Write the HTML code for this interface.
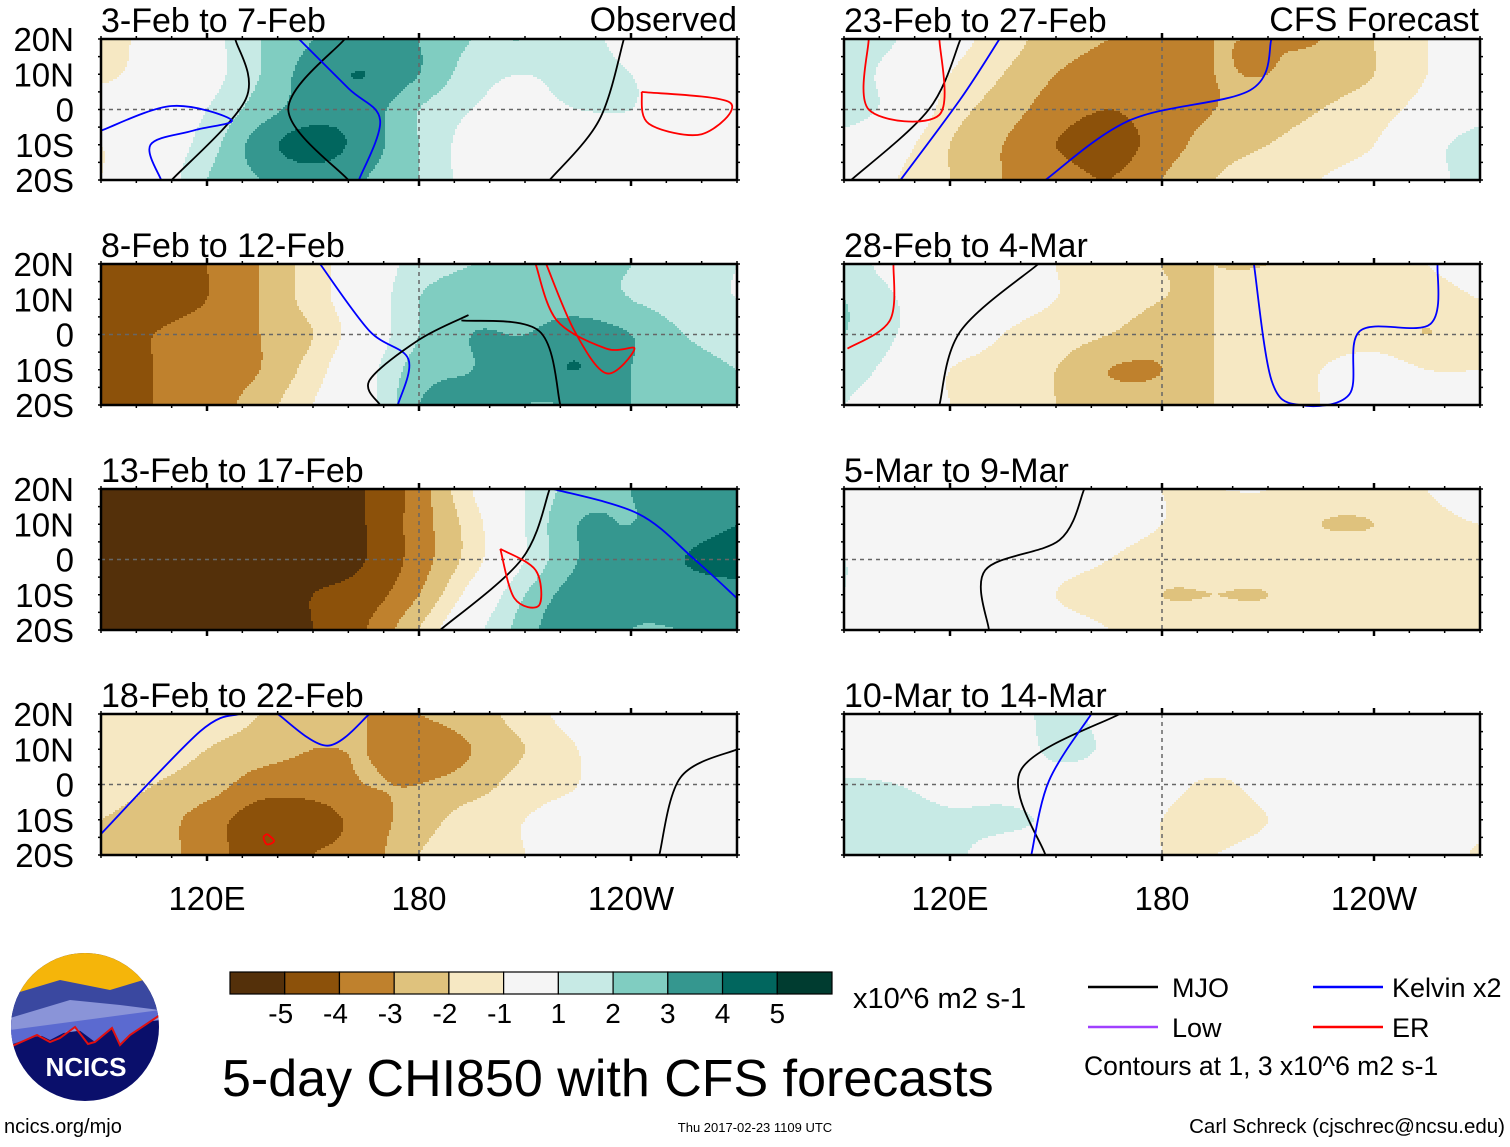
<!DOCTYPE html>
<html><head><meta charset="utf-8">
<style>
html,body{margin:0;padding:0;background:#fff;}
body{width:1510px;height:1142px;position:relative;overflow:hidden;font-family:"Liberation Sans",Arial,sans-serif;}
svg text{font-family:"Liberation Sans",Arial,sans-serif;}
</style></head>
<body>
<svg id="chart" width="1510" height="1142" viewBox="0 0 1510 1142" xmlns="http://www.w3.org/2000/svg">
</svg>
<script>
// ---- data ----
const levels = [-5,-4,-3,-2,-1,1,2,3,4,5];
const colorbarLabels = ["-5","-4","-3","-2","-1","1","2","3","4","5"];
const colors = ["#54300a","#8c510a","#bf812d","#dfc27d","#f6e8c3","#f5f5f5","#c7eae5","#80cdc1","#35978f","#01665e","#003c30"];
const lons = [90,105,120,135,150,165,180,195,210,225,240,255,270];
const lats = [20,10,0,-10,-20];
const titles = ["3-Feb to 7-Feb","8-Feb to 12-Feb","13-Feb to 17-Feb","18-Feb to 22-Feb","23-Feb to 27-Feb","28-Feb to 4-Mar","5-Mar to 9-Mar","10-Mar to 14-Mar"];
const p1 = [[-1.5,-0.5,0.5,2,3,3.5,3,2,2,1.5,0.5,0,0],[-1.2,-0.5,0.5,2,3.5,4,3,1.5,1,1.5,1,0.5,0],[-0.5,0,1,2.5,3.5,3.5,2,1,0.5,1,1,0.5,0.5],[-1,0,1.5,3.5,4.5,3.5,2,0.5,0,0,0.5,0.5,0],[-1,0,2,3,3.5,3,2,0.5,0,0,0,0,0]];
const p2 = [[-4.5,-4.5,-4,-3,-1.5,0,1.5,2,2,2,2,1.5,1],[-4.5,-4.5,-4,-3,-1.5,0,2,2.5,2.5,2.5,2,1.5,1],[-4.5,-4,-3.5,-3,-2,0,2,3,3,3.5,3,2,1.5],[-5,-4,-3.5,-3,-1.5,0.5,2.5,3,3.5,4,3,2.5,2],[-4.5,-4,-3.5,-2.5,-1,0.5,3,3.5,3,3,3,2.5,2]];
const p3 = [[-5.5,-5.5,-5.5,-5.5,-5.5,-5,-3.5,-1,1,2.5,3,3.5,4],[-5.5,-5.5,-5.5,-5.5,-5.5,-5,-3.5,-1.5,1,3,3,3.5,4],[-5.5,-5.5,-5.5,-5.5,-5.5,-5,-3.5,-1.5,1,3,3.5,4,4.5],[-5.5,-5.5,-5.5,-5.5,-5,-4.5,-3,-0.5,2,3.5,3.5,3.5,3.5],[-5.5,-5.5,-5.5,-5.5,-5,-4,-2,0.5,2.5,4,3,3,3]];
const p4 = [[-1.5,-1,-1.5,-2,-2.5,-3,-3,-2.5,-1.5,-0.5,0,0,0],[-1,-1.5,-2,-2.5,-3,-3,-3.5,-3,-2,-1,0,0,0],[-1.5,-2,-2.5,-3.5,-3.5,-3,-3,-2.5,-1.5,-1,0,0,0],[-2,-2.5,-3.5,-4.5,-4.5,-3.5,-2.5,-1.5,-1,-0.5,0,0,0],[-2,-2.5,-3.5,-4.5,-4,-3.5,-2,-1.5,-1,-0.5,0,0,0]];
const p5 = [[1.5,1,-0.5,-1.5,-2.5,-3,-3,-3,-3,-3,-2,-1,0],[1.5,0.5,-1,-2,-3,-3.5,-3.5,-3,-3,-2.5,-2,-1,0],[1.5,0.5,-1.5,-2.5,-3.5,-4,-3.5,-3,-2.5,-2,-1.5,-0.5,0.5],[0.5,-0.5,-2,-3,-4,-4.5,-3.5,-2.5,-2,-1.5,-1,0.5,1.5],[0,-1,-2,-3,-3.5,-4,-3,-2,-1.5,-1,-0.5,0.5,1.5]];
const p6 = [[1.5,0.5,0,-0.5,-1,-1.5,-2,-2,-2,-1.5,-1.5,-1,-0.5],[2,1,0,-0.5,-1,-1.5,-2,-2,-1.5,-1.5,-1.5,-1.5,-1],[2,1,0,-1,-1.5,-2,-2.5,-2,-1.5,-1.5,-1.5,-2,-1.5],[1.5,0.5,-1,-1.5,-2,-3,-3,-2,-1.5,-1,-0.5,-1,-1],[1,0,-1,-1.5,-2,-2.5,-2.5,-2,-1.5,-1,-0.5,-0.5,-1]];
const p7 = [[0.5,0,0,0,0,-0.5,-1,-1,-1,-1.5,-1.5,-1,0],[0.5,0,0,0,0,-0.5,-1,-1.5,-1.5,-2,-2,-1.5,-1],[1,0,0,0,-0.5,-1,-1.5,-1.5,-1.5,-1.5,-1.5,-1.5,-1.5],[1,0,0,0,-1,-1.5,-2,-2,-2,-1.5,-1.5,-1.5,-1.5],[1,0,0,0,-0.5,-1,-1.5,-1.5,-1.5,-1.5,-1.5,-1.5,-1]];
const p8 = [[0,0,0,0,1.5,0.5,0,0,0,0,0,0,0],[0,0,0,0,1.3,0.8,0,0,0,0,0,0,0],[1.2,1,0.5,0.5,0.5,0.3,-0.5,-1.2,-0.5,0,0,0,0],[1.5,1.5,1.2,1.2,0.8,0.3,-1,-1.5,-1,0,0,0,-0.5],[1.2,1.2,1.2,0.5,0.5,0,-1,-1,-0.5,0,0,0,-1.2]];
const fields = [p1,p2,p3,p4,p5,p6,p7,p8];
// contour lines: [panel, kind, [[lon,lat],...]]
const lines = [
 [0,"mjo",[[128,20],[131,3],[110,-20]]],
 [0,"mjo",[[159,20],[143,0],[160,-20]]],
 [0,"mjo",[[238,20],[231,-3],[217,-20]]],
 [0,"kelvin",[[146,20],[160,6],[169,-3],[163,-20]]],
 [0,"kelvin",[[90,-6],[110,1],[127,-3],[116,-6],[104,-10],[107,-20]]],
 [0,"er",[[243,5],[268,2],[260,-7],[245,-4],[243,5]]],
 [1,"kelvin",[[152,20],[166,1],[177,-7],[174,-20]]],
 [1,"mjo",[[194,5.5],[180,-1.5],[166,-13],[169,-20]]],
 [1,"mjo",[[192,4],[214,1],[220,-20]]],
 [1,"er",[[213,20],[219,4],[233,-4],[241,-4],[233,-11],[224,1],[216,20]]],
 [2,"mjo",[[217,20],[209,0],[186,-20]]],
 [2,"kelvin",[[218,20],[242,13],[258,0],[270,-11]]],
 [2,"er",[[203,3],[213,-3],[214,-13],[207,-11],[203,3]]],
 [3,"kelvin",[[90,-14],[118,15],[129,20]]],
 [3,"kelvin",[[140,20],[154,11],[166,20]]],
 [3,"mjo",[[270,10],[254,2],[248,-20]]],
 [3,"er",[[137,-14],[139,-16],[137,-17],[136,-15],[137,-14]]],
 [4,"mjo",[[123,20],[114,0],[92,-20]]],
 [4,"kelvin",[[134,20],[123,3],[106,-20]]],
 [4,"kelvin",[[147,-20],[171,-3],[205,5.5],[211,20]]],
 [4,"er",[[97,20],[97,0],[117,-1.5],[117,20]]],
 [5,"mjo",[[145,20],[123,1],[117,-20]]],
 [5,"kelvin",[[206,20],[211,-13],[219,-20],[233,-17],[236,1],[256,3],[258,20]]],
 [5,"er",[[91,-4],[103,4],[104,20]]],
 [6,"mjo",[[158,20],[151,5.5],[130,-3],[131,-20]]],
 [7,"mjo",[[168,20],[140,4],[147,-20]]],
 [7,"kelvin",[[160,20],[148,1],[143,-20]]]
];
const lineColor = {mjo:"#000", kelvin:"#0000ff", er:"#ff0000"};

// ---- layout ----
const NS="http://www.w3.org/2000/svg";
const svg=document.getElementById('chart');
const colX=[101,844], W=636, H=141, rowY=[39,264,489,714];
function el(tag,attrs,parent){const e=document.createElementNS(NS,tag);for(const k in attrs)e.setAttribute(k,attrs[k]);(parent||svg).appendChild(e);return e;}
function colorFor(v){let i=0;while(i<levels.length&&v>=levels[i])i++;return colors[i];}
function cr(a,b,c,d,t){return 0.5*((2*b)+(-a+c)*t+(2*a-5*b+4*c-d)*t*t+(-a+3*b-3*c+d)*t*t*t);}
function interp(f,lon,lat){
  let fx=(lon-90)/15, fy=(20-lat)/10;
  fx=Math.max(0,Math.min(12,fx)); fy=Math.max(0,Math.min(4,fy));
  const i=Math.min(11,Math.floor(fx)), j=Math.min(3,Math.floor(fy));
  const tx=fx-i, ty=fy-j;
  const ci=k=>Math.max(0,Math.min(12,k)), cj=k=>Math.max(0,Math.min(4,k));
  const row=r=>cr(f[r][ci(i-1)],f[r][i],f[r][i+1],f[r][ci(i+2)],tx);
  return cr(row(cj(j-1)),row(j),row(j+1),row(cj(j+2)),ty);
}
function smoothPath(pts){
  let d='M'+pts[0][0].toFixed(1)+' '+pts[0][1].toFixed(1);
  for(let i=0;i<pts.length-1;i++){
    const p0=pts[Math.max(0,i-1)],p1=pts[i],p2=pts[i+1],p3=pts[Math.min(pts.length-1,i+2)];
    const c1=[p1[0]+(p2[0]-p0[0])/6,p1[1]+(p2[1]-p0[1])/6], c2=[p2[0]-(p3[0]-p1[0])/6,p2[1]-(p3[1]-p1[1])/6];
    d+=' C'+c1.map(v=>v.toFixed(1)).join(' ')+' '+c2.map(v=>v.toFixed(1)).join(' ')+' '+p2[0].toFixed(1)+' '+p2[1].toFixed(1);
  }
  return d;
}
for(let p=0;p<8;p++){
  const x0=colX[p<4?0:1], y0=rowY[p%4];
  const xs=lon=>x0+(lon-90)/180*W, ys=lat=>y0+(20-lat)/40*H;
  const g=el('g',{});
  
  
  const cs=2;
  for(let yy=0;yy<H;yy+=cs){
    let run=null;
    for(let xx=0;xx<=W;xx+=cs){
      let c=null;
      if(xx<W){const lon=90+(xx+cs/2)/W*180, lat=20-(yy+cs/2)/H*40;c=colorFor(interp(fields[p],lon,lat));}
      if(run&&run.c===c){run.w+=cs;continue;}
      if(run){const r=el('rect',{x:x0+run.x,y:y0+yy,width:Math.min(run.w,W-run.x)+0.6,height:Math.min(cs,H-yy)+0.6,fill:run.c},g);
        
        }
      run={x:xx,w:cs,c:c};
    }
  }
  el('line',{x1:xs(180),x2:xs(180),y1:y0,y2:y0+H,stroke:'#666','stroke-width':1.5,'stroke-dasharray':'4,4'},g);
  el('line',{x1:x0,x2:x0+W,y1:ys(0),y2:ys(0),stroke:'#666','stroke-width':1.5,'stroke-dasharray':'4,4'},g);
  lines.filter(l=>l[0]===p).forEach(l=>{
    const pts=l[2].map(pt=>[xs(pt[0]),ys(pt[1])]);
    const pa=el('path',{d:smoothPath(pts),fill:'none',stroke:lineColor[l[1]],'stroke-width':1.8,'stroke-linejoin':'round'},g);
    
    
  });
  el('rect',{x:x0,y:y0,width:W,height:H,fill:'none',stroke:'#000','stroke-width':2.5},g);
  for(let lon=90;lon<=270;lon+=10){const X=xs(lon);const big=(lon%60===0);
    el('line',{x1:X,x2:X,y1:y0-(big?6:3),y2:y0,stroke:'#000','stroke-width':big?2.5:1.5},g);
    el('line',{x1:X,x2:X,y1:y0+H,y2:y0+H+(big?6:3),stroke:'#000','stroke-width':big?2.5:1.5},g);}
  for(let lat=-20;lat<=20;lat+=5){const Y=ys(lat);
    el('line',{x1:x0-3,x2:x0,y1:Y,y2:Y,stroke:'#000','stroke-width':1.5},g);
    el('line',{x1:x0+W,x2:x0+W+3,y1:Y,y2:Y,stroke:'#000','stroke-width':1.5},g);}
  const t=el('text',{x:x0,y:y0-7,'font-size':34},g);t.textContent=titles[p];
  
  
  if(p<4){
    ['20N','10N','0','10S','20S'].forEach((s,k)=>{const tt=el('text',{x:74,y:y0+12+k*35.25,'font-size':33,'text-anchor':'end'},g);tt.textContent=s;
      
      });
  }
}
const lab1=el('text',{x:737,y:31,'font-size':34,'text-anchor':'end'});lab1.textContent='Observed';

const lab2=el('text',{x:1479,y:31,'font-size':34,'text-anchor':'end'});lab2.textContent='CFS Forecast';

[[101,'120E',120],[101,'180',180],[101,'120W',240],[844,'120E',120],[844,'180',180],[844,'120W',240]].forEach(a=>{
  const t=el('text',{x:a[0]+(a[2]-90)/180*W,y:910,'font-size':33,'text-anchor':'middle'});t.textContent=a[1];
  });
const cbX=230,cbY=972,cbW=602/11,cbH=22;
colors.forEach((c,i)=>{const r=el('rect',{x:cbX+i*cbW,y:cbY,width:cbW,height:cbH,fill:c,stroke:'#000','stroke-width':1.2});
  });
colorbarLabels.forEach((s,i)=>{const t=el('text',{x:cbX+(i+1)*cbW-(s.length>1?4:0),y:1023,'font-size':28,'text-anchor':'middle'});t.textContent=s;
  });
const u=el('text',{x:853,y:1008,'font-size':29});u.textContent='x10^6 m2 s-1';

const mt=el('text',{x:222,y:1096,'font-size':52});mt.textContent='5-day CHI850 with CFS forecasts';

[[1088,987,'#000','MJO',1172],[1313,987,'#0000ff','Kelvin x2',1392],[1088,1027,'#a040ff','Low',1172],[1313,1027,'#ff0000','ER',1392]].forEach(a=>{
  const l=el('line',{x1:a[0],x2:a[0]+70,y1:a[1],y2:a[1],stroke:a[2],'stroke-width':2.5});
  
  const t=el('text',{x:a[4],y:a[1]+10,'font-size':27},svg);t.textContent=a[3];
  });
const ct=el('text',{x:1084,y:1075,'font-size':26.5});ct.textContent='Contours at 1, 3 x10^6 m2 s-1';

const au=el('text',{x:1505,y:1133,'font-size':20.5,'text-anchor':'end'});au.textContent='Carl Schreck (cjschrec@ncsu.edu)';

const dt=el('text',{x:755,y:1132,'font-size':13,'text-anchor':'middle'});dt.textContent='Thu 2017-02-23 1109 UTC';

const url=el('text',{x:4,y:1133,'font-size':20});url.textContent='ncics.org/mjo';

const lg=el('g',{});
el('defs',{},lg).innerHTML='<clipPath id="lc"><circle cx="85" cy="1027" r="74"/></clipPath>';
const lc=el('g',{'clip-path':'url(#lc)'},lg);
el('rect',{x:10,y:952,width:150,height:150,fill:'#0a0f6b'},lc);
el('rect',{x:10,y:952,width:150,height:40,fill:'#f5b50a'},lc);
el('path',{d:'M10 995 L60 980 L110 990 L160 975 L160 1020 L10 1030 Z',fill:'#3a48a0'},lc);
el('path',{d:'M10 1018 L70 1000 L120 1005 L160 1010 L160 1020 L10 1040Z',fill:'#8a94d8'},lc);
el('path',{d:'M10 1045 L40 1035 L50 1040 L75 1027 L95 1042 L112 1028 L120 1045 L130 1035 L160 1015 L160 1010 L10 1030Z',fill:'#5b6ad0'},lc);
el('path',{d:'M10 1047 L37 1035 L50 1042 L60 1038 L75 1027 L88 1044 L95 1042 L112 1028 L120 1045 L130 1035 L160 1015',fill:'none',stroke:'#e01010','stroke-width':2},lc);
const nt=el('text',{x:86,y:1076,'font-size':26,'font-weight':'bold',fill:'#fff','text-anchor':'middle'},lg);nt.textContent='NCICS';
</script>
</body></html>
